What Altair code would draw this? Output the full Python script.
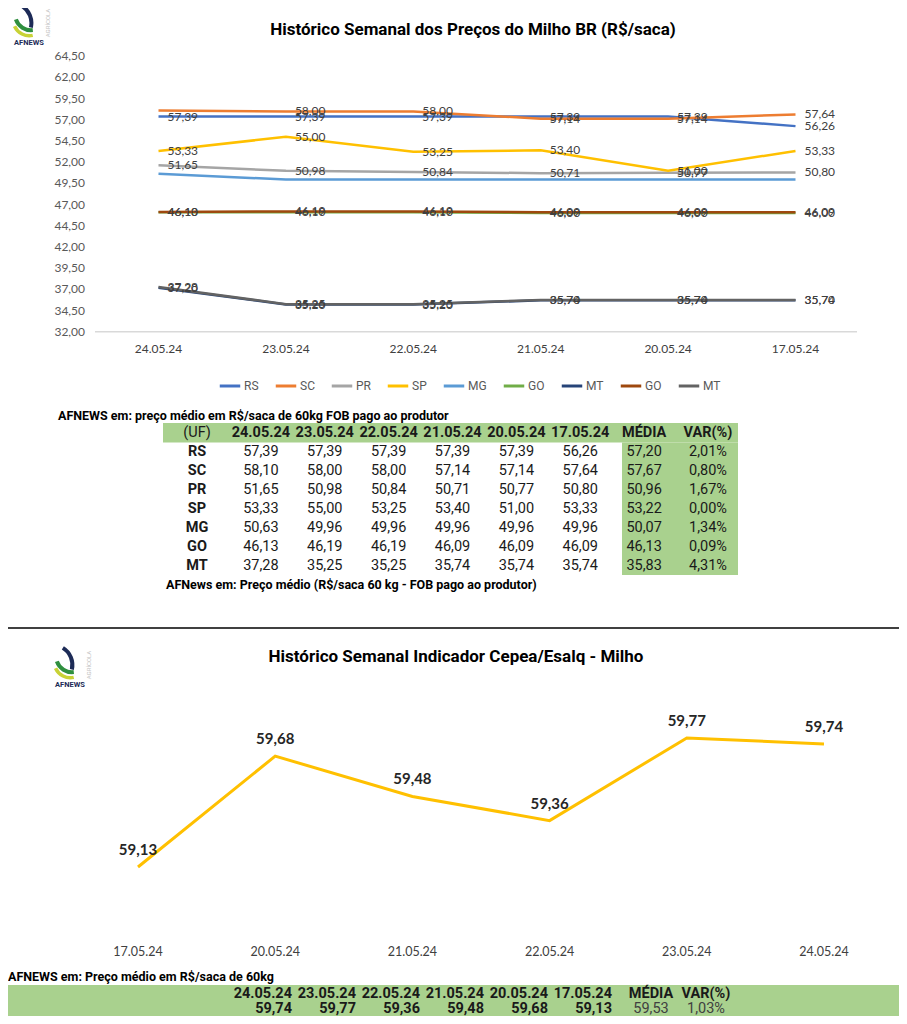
import altair as alt
import pandas as pd

# ---------------- data ----------------
TOP_DATES = ["24.05.24", "23.05.24", "22.05.24", "21.05.24", "20.05.24", "17.05.24"]
SERIES_KEYS = ["RS", "SC", "PR", "SP", "MG", "GO1", "MT1", "GO2", "MT2"]
SERIES_COLORS = ["#4472C4", "#ED7D31", "#A5A5A5", "#FFC000", "#5B9BD5",
                 "#70AD47", "#264478", "#9E480E", "#636363"]
RS = [57.39, 57.39, 57.39, 57.39, 57.39, 56.26]
SC = [58.10, 58.00, 58.00, 57.14, 57.14, 57.64]
PR = [51.65, 50.98, 50.84, 50.71, 50.77, 50.80]
SP = [53.33, 55.00, 53.25, 53.40, 51.00, 53.33]
MG = [50.63, 49.96, 49.96, 49.96, 49.96, 49.96]
GO_OLD = [46.10, 46.10, 46.10, 46.00, 46.00, 46.00]
MT_OLD = [37.20, 35.20, 35.20, 35.70, 35.70, 35.70]
GO = [46.13, 46.19, 46.19, 46.09, 46.09, 46.09]
MT = [37.28, 35.25, 35.25, 35.74, 35.74, 35.74]
Y_TICKS = [32.0, 34.5, 37.0, 39.5, 42.0, 44.5, 47.0, 49.5, 52.0, 54.5, 57.0, 59.5, 62.0, 64.5]
NO_LABEL = [("MG", d) for d in TOP_DATES] + [("SC", "24.05.24")]

TABLE_ROWS = ["RS", "SC", "PR", "SP", "MG", "GO", "MT"]
TABLE_SERIES = [RS, SC, PR, SP, MG, GO, MT]
MEDIA = ["57,20", "57,67", "50,96", "53,22", "50,07", "46,13", "35,83"]
VARP = ["2,01%", "0,80%", "1,67%", "0,00%", "1,34%", "0,09%", "4,31%"]
TABLE_COLS = ["(UF)"] + TOP_DATES + ["MÉDIA", "VAR(%)"]

CEPEA_DATES = ["17.05.24", "20.05.24", "21.05.24", "22.05.24", "23.05.24", "24.05.24"]
CEPEA = [59.13, 59.68, 59.48, 59.36, 59.77, 59.74]
CEPEA_MEDIA = "59,53"
CEPEA_VAR = "1,03%"

NARROW = "Roboto, 'Liberation Sans', sans-serif"
CAL = "Lato, 'Open Sans', sans-serif"
GREEN = "#A9D18E"


def fmt(v):
    return f"{v:.2f}".replace(".", ",")


def txt(text, x, y, size, weight="normal", color="#000000", align="left",
        font=NARROW, angle=0):
    return alt.Chart(pd.DataFrame({"t": [text]})).mark_text(
        align=align, baseline="middle", fontSize=size, fontWeight=weight,
        color=color, font=font, angle=angle
    ).encode(x=alt.value(x), y=alt.value(y), text="t:N")


def box(x, x2, y, y2, color):
    return alt.Chart(pd.DataFrame({"a": [0]})).mark_rect(color=color).encode(
        x=alt.value(x), x2=alt.value(x2), y=alt.value(y), y2=alt.value(y2))


def logo(ox, oy):
    # (ox + 21, oy + 35) is the centre of the "AFNEWS" word
    one = pd.DataFrame({"a": [0]})
    parts = []
    cx0, cy0 = ox + 21, oy + 35
    specs = [
        (-17.6, -20.1, 22, 18, 0.55, 1.80, "#1D2B57"),
        (2.0, -28.8, 18, 14, 3.03, 4.38, "#2F8F3F"),
        (0.3, -23.5, 18, 14.5, 2.93, 4.28, "#C8D236"),
    ]
    for cx, cy, r, r2, t1, t2, col in specs:
        parts.append(alt.Chart(one).mark_arc(
            radius=r, radius2=r2, theta=t1, theta2=t2, color=col
        ).encode(x=alt.value(cx0 + cx), y=alt.value(cy0 + cy)))
    parts.append(txt("AFNEWS", cx0, cy0, 7.5, "bold", "#1D2B57", "center", NARROW))
    parts.append(txt("AGRÍCOLA", cx0 + 19, cy0 - 20, 6, "normal", "#BFBFBF",
                     "center", NARROW, 270))
    return parts


# ---------------- top line chart ----------------
xs_top = alt.Scale(domain=TOP_DATES, range=[150.5, 787.5], padding=0)
ys_top = alt.Scale(domain=[32, 64.5], range=[323.7, 48.3], nice=False, zero=False)

rows = []
for key, vals in zip(SERIES_KEYS, [RS, SC, PR, SP, MG, GO_OLD, MT_OLD, GO, MT]):
    for d, v in zip(TOP_DATES, vals):
        rows.append({"series": key, "date": d, "value": v,
                     "lab": fmt(v), "show": (key[:2], d) not in NO_LABEL})
top_df = pd.DataFrame(rows)

lines = alt.Chart(top_df).mark_line(strokeWidth=2.5).encode(
    x=alt.X("date:N", scale=xs_top, axis=None, sort=TOP_DATES),
    y=alt.Y("value:Q", scale=ys_top, axis=None),
    color=alt.Color(
        "series:N",
        scale=alt.Scale(domain=SERIES_KEYS, range=SERIES_COLORS),
        sort=SERIES_KEYS,
        legend=alt.Legend(
            orient="none", legendX=210, legendY=366, direction="horizontal",
            title=None, symbolType="stroke", symbolSize=420, symbolStrokeWidth=3,
            labelFont=NARROW, labelFontSize=12, labelColor="#595959",
            columnPadding=10, labelOffset=2,
            labelExpr="substring(datum.label, 0, 2)",
        ),
    ),
)

point_labels = alt.Chart(top_df[top_df["show"]]).mark_text(
    align="left", baseline="middle", dx=9, fontSize=12, font=CAL, color="#404040"
).encode(
    x=alt.X("date:N", scale=xs_top, axis=None, sort=TOP_DATES),
    y=alt.Y("value:Q", scale=ys_top, axis=None),
    text="lab:N",
)

ytick_df = pd.DataFrame({"v": Y_TICKS, "lab": [fmt(v) for v in Y_TICKS]})
ytick_labels = alt.Chart(ytick_df).mark_text(
    align="right", baseline="middle", fontSize=12, font=CAL, color="#595959"
).encode(
    x=alt.value(77),
    y=alt.Y("v:Q", scale=ys_top, axis=None),
    text="lab:N",
)

base_df = pd.DataFrame({"v": [Y_TICKS[0]]})
baseline = alt.Chart(base_df).mark_rule(color="#D9D9D9", strokeWidth=1.5).encode(
    x=alt.value(87), x2=alt.value(849),
    y=alt.Y("v:Q", scale=ys_top, axis=None),
)

xlab_df = pd.DataFrame({"d": TOP_DATES})
xtick_labels = alt.Chart(xlab_df).mark_text(
    baseline="middle", fontSize=12, font=CAL, color="#404040"
).encode(
    x=alt.X("d:N", scale=xs_top, axis=None, sort=TOP_DATES),
    y=alt.value(341),
    text="d:N",
)

# ---------------- top table ----------------
cells = []
for j, c in enumerate(TABLE_COLS):
    cells.append({"col": c, "row": "(UF)", "t": c, "bold": j > 0})
for name, vals, m, vp in zip(TABLE_ROWS, TABLE_SERIES, MEDIA, VARP):
    cells.append({"col": "(UF)", "row": name, "t": name, "bold": True})
    for d, v in zip(TOP_DATES, vals):
        cells.append({"col": d, "row": name, "t": fmt(v), "bold": False})
    cells.append({"col": "MÉDIA", "row": name, "t": m, "bold": False})
    cells.append({"col": "VAR(%)", "row": name, "t": vp, "bold": False})
cells_df = pd.DataFrame(cells)

xs_tab = alt.Scale(domain=TABLE_COLS, range=[189, 700], padding=0)
ys_tab = alt.Scale(domain=["(UF)"] + TABLE_ROWS, range=[424.5, 558], padding=0)


def table_layer(df, weight):
    return alt.Chart(df).mark_text(
        baseline="middle", fontSize=14.5, font=NARROW, fontWeight=weight,
        color="#1A1A1A"
    ).encode(
        x=alt.X("col:N", scale=xs_tab, axis=None, sort=TABLE_COLS),
        y=alt.Y("row:N", scale=ys_tab, axis=None, sort=["(UF)"] + TABLE_ROWS),
        text="t:N",
    )


tab_bold = table_layer(cells_df[cells_df["bold"]], "bold")
tab_reg = table_layer(cells_df[~cells_df["bold"]], "normal")

# ---------------- bottom line chart ----------------
xs_bot = alt.Scale(domain=CEPEA_DATES, range=[130, 816], padding=0)
ys_bot = alt.Scale(domain=[58.8, 60.0], range=[925.5, 683.6], nice=False, zero=False)
cep_df = pd.DataFrame({"d": CEPEA_DATES, "v": CEPEA, "lab": [fmt(v) for v in CEPEA]})

cep_line = alt.Chart(cep_df).mark_line(color="#FFC000", strokeWidth=3).encode(
    x=alt.X("d:N", scale=xs_bot, axis=None, sort=CEPEA_DATES),
    y=alt.Y("v:Q", scale=ys_bot, axis=None),
)
cep_labels = alt.Chart(cep_df).mark_text(
    baseline="middle", dy=-17, fontSize=15, fontWeight="bold", font=CAL,
    color="#262626"
).encode(
    x=alt.X("d:N", scale=xs_bot, axis=None, sort=CEPEA_DATES),
    y=alt.Y("v:Q", scale=ys_bot, axis=None),
    text="lab:N",
)
cep_xlabels = alt.Chart(cep_df).mark_text(
    baseline="middle", fontSize=12.5, font=CAL, color="#404040"
).encode(
    x=alt.X("d:N", scale=xs_bot, axis=None, sort=CEPEA_DATES),
    y=alt.value(944),
    text="d:N",
)

# ---------------- bottom table ----------------
rev_dates = TOP_DATES
rev_vals = [CEPEA[CEPEA_DATES.index(d)] for d in rev_dates]
bt_rows = []
for d, v in zip(rev_dates, rev_vals):
    bt_rows.append({"col": d, "row": "h", "t": d})
    bt_rows.append({"col": d, "row": "v", "t": fmt(v)})
bt_df = pd.DataFrame(bt_rows)
xs_bt = alt.Scale(domain=rev_dates, range=[284, 604], padding=0)
ys_bt = alt.Scale(domain=["h", "v"], range=[986, 1001], padding=0)
bt_dates = alt.Chart(bt_df).mark_text(
    align="right", baseline="middle", fontSize=14.5, font=NARROW, fontWeight="bold",
    color="#1A1A1A"
).encode(
    x=alt.X("col:N", scale=xs_bt, axis=None, sort=rev_dates),
    y=alt.Y("row:N", scale=ys_bt, axis=None, sort=["h", "v"]),
    text="t:N",
)
bt2_df = pd.DataFrame([
    {"col": "MÉDIA", "row": "h", "t": "MÉDIA", "b": True},
    {"col": "VAR(%)", "row": "h", "t": "VAR(%)", "b": True},
    {"col": "MÉDIA", "row": "v", "t": CEPEA_MEDIA, "b": False},
    {"col": "VAR(%)", "row": "v", "t": CEPEA_VAR, "b": False},
])
xs_bt2 = alt.Scale(domain=["MÉDIA", "VAR(%)"], range=[643, 698], padding=0)


def bt2_layer(df, weight, color):
    return alt.Chart(df).mark_text(
        baseline="middle", fontSize=14.5, font=NARROW, fontWeight=weight, color=color
    ).encode(
        x=alt.X("col:N", scale=xs_bt2, axis=None, sort=["MÉDIA", "VAR(%)"]),
        y=alt.Y("row:N", scale=ys_bt, axis=None, sort=["h", "v"]),
        text="t:N",
    )


bt2_bold = bt2_layer(bt2_df[bt2_df["b"]], "bold", "#1A1A1A")
bt2_reg = bt2_layer(bt2_df[~bt2_df["b"]], "normal", "#404040")

# ---------------- assemble ----------------
layers = []
layers += logo(0, 0)
layers += [
    txt("Histórico Semanal dos Preços do Milho BR (R$/saca)", 465, 22, 17, "bold",
        "#000000", "center"),
    baseline, ytick_labels, xtick_labels, lines, point_labels,
    txt("AFNEWS em: preço médio em R$/saca de 60kg FOB pago ao produtor", 50, 408,
        12.5, "bold", "#000000"),
    box(155, 730, 415, 434.5, GREEN),
    box(614, 730, 434.5, 567, GREEN),
    tab_bold, tab_reg,
    txt("AFNews em: Preço médio (R$/saca 60 kg - FOB pago ao produtor)", 158, 577,
        12.5, "bold", "#000000"),
    alt.Chart(pd.DataFrame({"a": [0]})).mark_rule(color="#404040", strokeWidth=2).encode(
        x=alt.value(0), x2=alt.value(891), y=alt.value(620)),
]
layers += logo(41, 642)
layers += [
    txt("Histórico Semanal Indicador Cepea/Esalq - Milho", 448, 649, 17, "bold",
        "#000000", "center"),
    cep_line, cep_labels, cep_xlabels,
    txt("AFNEWS em: Preço médio em R$/saca de 60kg", 0, 969, 12.5, "bold", "#000000"),
    box(0, 891, 977, 1008, GREEN),
    bt_dates, bt2_bold, bt2_reg,
]

chart = alt.layer(*layers).resolve_scale(
    x="independent", y="independent", color="independent"
).properties(
    width=891, height=1008, padding=0, autosize=alt.AutoSizeParams(type="none"),
    background="#FFFFFF",
).configure_view(stroke=None)

chart.save("out.html", embed_options={"renderer": "svg", "actions": False})
